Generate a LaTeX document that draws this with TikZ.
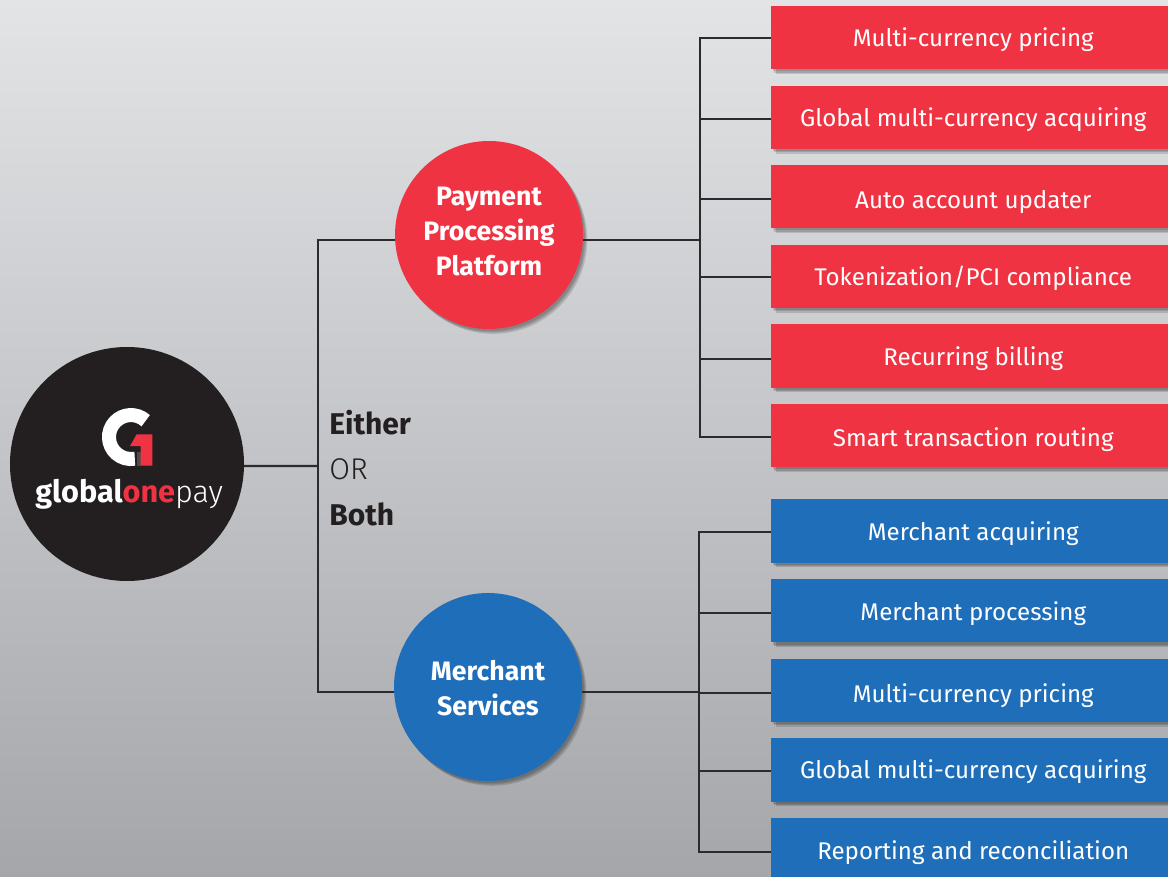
\documentclass[tikz,border=0pt]{standalone}
\usepackage{fontspec}
\setmainfont{Fira Sans}
\newfontfamily\lightface{Fira Sans Light}
\usetikzlibrary{shadows}
\definecolor{brandred}{HTML}{EF3342}
\definecolor{brandblue}{HTML}{1F6EBA}
\definecolor{brandblack}{HTML}{231F20}
\definecolor{linecol}{HTML}{2B2B2D}
\newcommand{\shifttext}[2]{\raisebox{#1}[\dimexpr\height-(#1)\relax][\dimexpr\depth+(#1)\relax]{#2}}
\tikzset{
  softshadow/.style={
    general shadow={fill=black,opacity=.14,shadow xshift=2.2pt,shadow yshift=-2.6pt},
    general shadow={fill=black,opacity=.14,shadow xshift=3.2pt,shadow yshift=-3.6pt},
    general shadow={fill=black,opacity=.12,shadow xshift=1.4pt,shadow yshift=-1.6pt}},
  itembox/.style={rectangle,minimum width=303pt,minimum height=47.5pt,inner sep=0pt,text=white,
    font=\fontsize{18.1}{22}\selectfont,softshadow,anchor=west,text depth=0pt},
  redbox/.style={itembox,fill=brandred},
  bluebox/.style={itembox,fill=brandblue},
  hub/.style={circle,minimum size=141pt,inner sep=0pt,text=white,align=center,
    font=\fontsize{20}{26.4}\selectfont\bfseries,softshadow},
  wire/.style={draw=linecol,line width=1.7pt},
  sidelabel/.style={anchor=base west,inner sep=0pt,text=brandblack,font=\fontsize{22.5}{27}\selectfont}
}
\begin{document}
\begin{tikzpicture}[x=0.75pt,y=-0.75pt]
\useasboundingbox (0,0) rectangle (1168,877);
\clip (0,0) rectangle (1168,877);
\shade[shading=axis,top color={rgb,255:red,227;green,228;blue,230},bottom color={rgb,255:red,165;green,166;blue,170}]
  (0,0) rectangle (1168,877);
% nodes
\node[circle,fill=brandblack,minimum size=175.5pt,inner sep=0pt] (logo) at (127,464) {};
\node[hub,fill=brandred] (pay) at (489,235) {\shifttext{0.55pt}{\begin{tabular}{@{}c@{}}Payment\\Processing\\Platform\end{tabular}}};
\node[hub,fill=brandblue] (ms) at (488,687) {\shifttext{-1.5pt}{\begin{tabular}{@{}c@{}}Merchant\\Services\end{tabular}}};
\node[redbox,text height=13.8pt] (r1) at (771,37.5) {Multi-currency pricing};
\node[redbox,text height=14.25pt] (r2) at (771,117.2) {Global multi-currency acquiring};
\node[redbox,text height=18pt] (r3) at (771,196.7) {Auto account updater};
\node[redbox,text height=14.7pt] (r4) at (771,276.2) {Tokenization/PCI compliance};
\node[redbox,text height=15pt] (r5) at (771,356) {Recurring billing};
\node[redbox,text height=16.5pt] (r6) at (771,435.5) {Smart transaction routing};
\node[bluebox,text height=14.55pt] (b1) at (771,531) {Merchant acquiring};
\node[bluebox,text height=15pt] (b2) at (771,610.7) {Merchant processing};
\node[bluebox,text height=17.55pt] (b3) at (771,690.3) {Multi-currency pricing};
\node[bluebox,text height=13pt] (b4) at (771,770) {Global multi-currency acquiring};
\node[bluebox,text height=14pt] (b5) at (771,849.7) {Reporting and reconciliation};
\coordinate (trunk) at (318,466);
\coordinate (busr) at (700,0);
\coordinate (busb) at (699,0);
% connector ends on the boxes' left edges
\coordinate (pr1) at (771,38.3);
\coordinate (pr2) at (771,119.3);
\coordinate (pr3) at (771,199);
\coordinate (pr4) at (771,277.3);
\coordinate (pr5) at (771,359);
\coordinate (pr6) at (771,436.7);
\coordinate (pb1) at (771,531.7);
\coordinate (pb2) at (771,613);
\coordinate (pb3) at (771,692.7);
\coordinate (pb4) at (771,771);
\coordinate (pb5) at (771,852.3);
% connectors
\draw[wire] (logo.-1) -- (trunk);
\draw[wire] (pay.183) -- (trunk |- pay.183) -- (trunk |- ms.183.5) -- (ms.183.5);
\draw[wire] (pay.-3) -- (busr |- pay.-3);
\draw[wire] (ms.-3.5) -- (busb |- ms.-3.5);
\draw[wire] (pr1) -- (busr |- pr1) -- (busr |- pr6) -- (pr6);
\foreach \n in {pr2,pr3,pr4,pr5} \draw[wire] (busr |- \n) -- (\n);
\draw[wire] (pb1) -- (busb |- pb1) -- (busb |- pb5) -- (pb5);
\foreach \n in {pb2,pb3,pb4} \draw[wire] (busb |- \n) -- (\n);
% labels
\node[sidelabel] (either) at (329,434) {\bfseries Either};
\node[sidelabel] (or) at (329,479) {\lightface OR};
\node[sidelabel] (both) at (329,525) {\bfseries Both};
% logo mark
\draw[white,line width=10.5pt] (145.7,420.7) arc[start angle=-48,end angle=-280,radius=22];
\fill[gray!60!black] (136.5,452) rectangle (141,466);
\fill[brandred] (130,446) -- (136.7,434.3) -- (152.3,434.3) -- (152.3,465.7) -- (140.7,465.7) -- (140.7,446) -- cycle;
\node[anchor=base west,inner sep=0pt,text=white,font=\fontsize{23}{27}\selectfont] (wordmark) at (35,502)
  {\bfseries global\textcolor{brandred}{one}\lightface\mdseries pay};
\end{tikzpicture}
\end{document}
